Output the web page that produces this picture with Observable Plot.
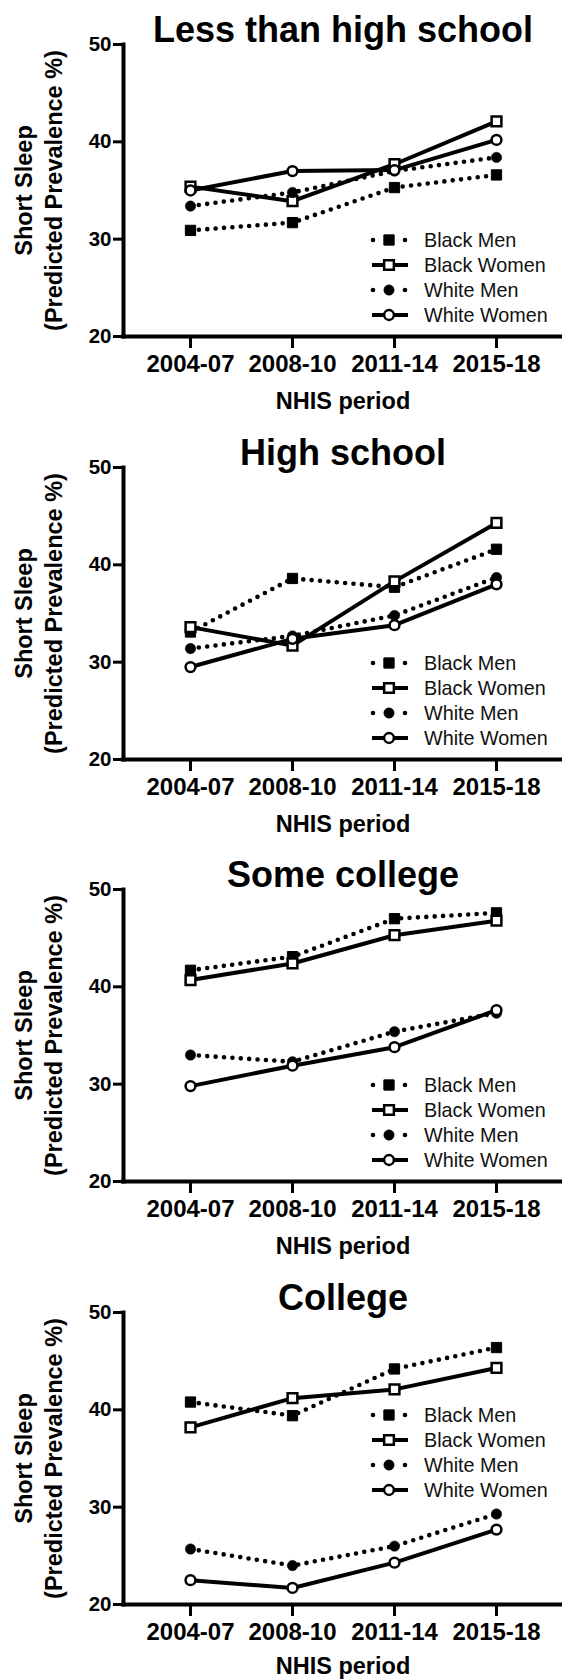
<!DOCTYPE html>
<html><head><meta charset="utf-8">
<script src="https://cdn.jsdelivr.net/npm/d3@7"></script>
<script src="https://cdn.jsdelivr.net/npm/@observablehq/plot@0.6"></script>
<style>
html,body{margin:0;padding:0;background:#fff;}
#chart svg{display:block;}
</style></head><body><div id="chart"></div>
<script>
// ---- data ----
const periods = ["2004-07", "2008-10", "2011-14", "2015-18"];
const panelTitles = ["Less than high school", "High school", "Some college", "College"];
const seriesNames = ["Black Men", "Black Women", "White Men", "White Women"];
const yTicks = [20, 30, 40, 50];
const xLabel = "NHIS period";
const yLabel = "Short Sleep\n(Predicted Prevalence %)";
// one row per panel, one value per period
const blackMen   = [[30.9, 31.7, 35.3, 36.6], [33.1, 38.6, 37.7, 41.6], [41.7, 43.1, 47.0, 47.6], [40.8, 39.4, 44.2, 46.4]];
const blackWomen = [[35.4, 33.9, 37.7, 42.1], [33.6, 31.7, 38.3, 44.3], [40.7, 42.4, 45.3, 46.8], [38.2, 41.2, 42.1, 44.3]];
const whiteMen   = [[33.4, 34.8, 37.0, 38.4], [31.4, 32.7, 34.8, 38.7], [33.0, 32.3, 35.4, 37.3], [25.7, 24.0, 26.0, 29.3]];
const whiteWomen = [[35.0, 37.0, 37.1, 40.2], [29.5, 32.4, 33.8, 38.0], [29.8, 31.9, 33.8, 37.6], [22.5, 21.7, 24.3, 27.7]];

// ---- layout / style ----
const seriesValues = [blackMen, blackWomen, whiteMen, whiteWomen];
const seriesStyle = [
  {dotted: true,  symbol: "square", fill: "black", r: 5.8, sw: 1},
  {dotted: false, symbol: "square", fill: "white", r: 5.5, sw: 2.5},
  {dotted: true,  symbol: "circle", fill: "black", r: 5.2, sw: 0.5},
  {dotted: false, symbol: "circle", fill: "white", r: 4.9, sw: 2.5}
];
const panelHeights = [423, 422, 423, 411];
const panelMarginBottom = [87, 86, 87, 75];
const legendOffsets = [96, 96, 96, 189];
const xLabelOffsets = [56, 56, 56, 53];
const FONT = "'Liberation Sans', Arial, Helvetica, sans-serif";

function legendMark(offset) {
  return (index, scales, values, dims) => {
    const g = d3.create("svg:g").attr("font-family", FONT);
    const bottom = dims.height - dims.marginBottom;
    seriesNames.forEach((name, s) => {
      const st = seriesStyle[s];
      const y = bottom - offset + s * 25;
      const x0 = dims.marginLeft + 250, x1 = dims.marginLeft + 284, xm = dims.marginLeft + 266;
      if (st.dotted) {
        g.append("circle").attr("cx", x0).attr("cy", y).attr("r", 2.3).attr("fill", "black");
        g.append("circle").attr("cx", x1 - 2).attr("cy", y).attr("r", 2.3).attr("fill", "black");
      } else {
        g.append("line").attr("x1", x0 - 1).attr("x2", x1 + 1).attr("y1", y).attr("y2", y)
          .attr("stroke", "black").attr("stroke-width", 3.8);
      }
      const size = st.symbol === "square" ? Math.pow(st.r * Math.sqrt(Math.PI), 2) : Math.PI * st.r * st.r;
      g.append("path")
        .attr("d", d3.symbol(st.symbol === "square" ? d3.symbolSquare : d3.symbolCircle, size)())
        .attr("transform", `translate(${xm},${y})`)
        .attr("fill", st.fill).attr("stroke", "black").attr("stroke-width", st.sw);
      g.append("text").attr("x", dims.marginLeft + 301).attr("y", y).attr("dy", "0.36em")
        .attr("text-anchor", "start")
        .attr("font-size", 19.8).attr("fill", "#111").text(name);
    });
    return g.node();
  };
}

const chart = document.getElementById("chart");
panelTitles.forEach((title, k) => {
  const rows = seriesNames.flatMap((name, s) =>
    periods.map((p, j) => ({series: name, period: p, value: seriesValues[s][k][j]})));
  const marks = [
    Plot.ruleY([20], {stroke: "black", strokeWidth: 4, strokeLinecap: "square"}),
    Plot.frame({anchor: "left", stroke: "black", strokeWidth: 4, strokeLinecap: "square"}),
    Plot.axisY({ticks: yTicks, tickSize: 10, tickPadding: 2, fontSize: 20.5, fontWeight: "bold", strokeWidth: 3, label: null}),
    Plot.axisX({tickSize: 12, tickPadding: 6, fontSize: 24, fontWeight: "bold", strokeWidth: 3, label: null})
  ];
  seriesNames.forEach((name, s) => {
    const st = seriesStyle[s];
    marks.push(Plot.line(rows.filter(d => d.series === name), {
      x: "period", y: "value", stroke: "black",
      strokeWidth: st.dotted ? 4.6 : 4,
      strokeDasharray: st.dotted ? "0 8.4" : null,
      strokeLinecap: "round", strokeLinejoin: "round"
    }));
  });
  seriesNames.forEach((name, s) => {
    const st = seriesStyle[s];
    marks.push(Plot.dot(rows.filter(d => d.series === name), {
      x: "period", y: "value", symbol: st.symbol, r: st.r,
      fill: st.fill, stroke: "black", strokeWidth: st.sw
    }));
  });
  marks.push(
    Plot.text([title], {text: d => d, frameAnchor: "top", textAnchor: "middle", lineAnchor: "bottom", dy: -3, fontSize: 36, fontWeight: "bold"}),
    Plot.text([xLabel], {text: d => d, frameAnchor: "bottom", textAnchor: "middle", lineAnchor: "top", dy: xLabelOffsets[k], fontSize: 23.5, fontWeight: "bold"}),
    Plot.text([yLabel], {text: d => d, frameAnchor: "left", textAnchor: "middle", rotate: -90, dx: -86, lineAnchor: "middle", lineHeight: 1.26, fontSize: 23.5, fontWeight: "bold"}),
    legendMark(legendOffsets[k])
  );
  const svg = Plot.plot({
    width: 562,
    height: panelHeights[k],
    marginLeft: 123, marginRight: 0, marginTop: 44, marginBottom: panelMarginBottom[k],
    x: {type: "point", domain: periods, padding: 0.65},
    y: {domain: [20, 50]},
    style: {fontFamily: FONT, background: "white", color: "black"},
    marks
  });
  chart.appendChild(svg);
});
</script>
</body></html>
